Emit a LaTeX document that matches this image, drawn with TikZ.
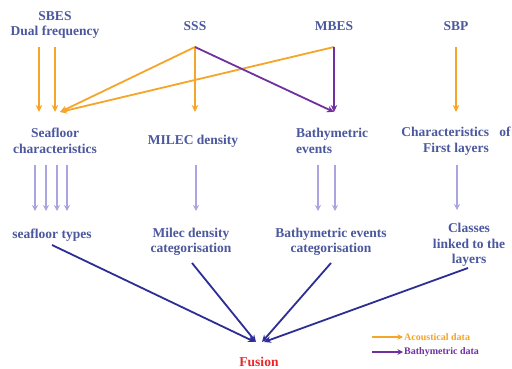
\documentclass[tikz,border=0pt]{standalone}
\usepackage{fontspec}
\setmainfont{Liberation Serif}
\usetikzlibrary{arrows.meta}
\definecolor{txt}{RGB}{75,88,158}
\definecolor{acou}{RGB}{245,165,40}
\definecolor{bath}{RGB}{112,48,160}
\definecolor{lite}{RGB}{170,165,225}
\definecolor{navy}{RGB}{45,45,150}
\definecolor{fus}{RGB}{232,40,40}
\tikzset{
  lbl/.style={text=txt, font=\bfseries\fontsize{13.5}{15.5}\selectfont, inner sep=0pt, align=center},
  acarrow/.style={draw=acou, line width=1.8pt, -{Stealth[length=7pt,width=6.5pt]}},
  batharrow/.style={draw=bath, line width=1.8pt, -{Stealth[length=7pt,width=6.5pt]}},
  litearrow/.style={draw=lite, line width=1.4pt, -{Stealth[length=6pt,width=6pt]}},
  navyarrow/.style={draw=navy, line width=1.8pt, -{Stealth[length=7pt,width=6.5pt]}},
  legtxt/.style={font=\bfseries\fontsize{10}{12}\selectfont, inner sep=0pt, anchor=west}
}
\begin{document}
\begin{tikzpicture}[x=1pt,y=-1pt]
\useasboundingbox[fill=white] (0,0) rectangle (512,369);
% top row
\node[lbl] (sbes) at (55,25) {SBES\\Dual frequency};
\node[lbl] (sss) at (195,26) {SSS};
\node[lbl] (mbes) at (334,26) {MBES};
\node[lbl] (sbp) at (456,26) {SBP};
% second row
\node[lbl] (sfc) at (55,141) {Seafloor\\characteristics};
\node[lbl] (milec) at (193,141) {MILEC density};
\node[lbl, align=left, anchor=west] (bev) at (296,141) {Bathymetric\\events};
\node[lbl] (chr) at (456,141) {Characteristics\ \ \ of\\First layers};
% third row
\node[lbl] (sft) at (52,235) {seafloor types};
\node[lbl] (mdc) at (191,242) {Milec density\\categorisation};
\node[lbl] (bec) at (331,242) {Bathymetric events\\categorisation};
\node[lbl] (cls) at (469,245) {Classes\\linked to the\\layers};
% fusion
\node[text=fus, font=\bfseries\fontsize{13.5}{15.5}\selectfont, inner sep=0pt] (fusion) at (259,362) {Fusion};
% coordinates for arrow ends
\coordinate (sb1) at (39,47);
\coordinate (sb2) at (55,47);
\coordinate (sb1e) at (39,112);
\coordinate (sb2e) at (55,112);
\coordinate (sfin) at (60,112);
\coordinate (ssso) at (195,47);
\coordinate (ssse) at (195,112);
\coordinate (mbo) at (334,47);
\coordinate (mbe) at (334,112);
\coordinate (sbpo) at (456,47);
\coordinate (sbpe) at (456,112);
% top arrows
\draw[acarrow] (sb1) -- (sb1e);
\draw[acarrow] (sb2) -- (sb2e);
\draw[acarrow] (ssso) -- (sfin);
\draw[acarrow] (mbo) -- (sfin);
\draw[acarrow] (ssso) -- (ssse);
\draw[batharrow] (ssso) -- (mbe);
\draw[batharrow] (mbo) -- (mbe);
\draw[acarrow] (sbpo) -- (sbpe);
% light arrows
\foreach \xx/\nn in {35/a,46/b,57/c,67/d}{
  \coordinate (sfs\nn) at (\xx,165);
  \coordinate (sfe\nn) at (\xx,211);
  \draw[litearrow] (sfs\nn) -- (sfe\nn);
}
\coordinate (mls) at (196,165); \coordinate (mle) at (196,211);
\draw[litearrow] (mls) -- (mle);
\coordinate (bvs1) at (318,165); \coordinate (bve1) at (318,211);
\coordinate (bvs2) at (335,165); \coordinate (bve2) at (335,211);
\draw[litearrow] (bvs1) -- (bve1);
\draw[litearrow] (bvs2) -- (bve2);
\coordinate (chs) at (457,165); \coordinate (che) at (457,210);
\draw[litearrow] (chs) -- (che);
% navy arrows
\coordinate (f1) at (52,245);
\coordinate (f2) at (192,263);
\coordinate (f3) at (331,263);
\coordinate (f4) at (468,268);
\coordinate (t1) at (255,342);
\coordinate (t2) at (256,342);
\coordinate (t3) at (262,342);
\coordinate (t4) at (264,342);
\draw[navyarrow] (f1) -- (t1);
\draw[navyarrow] (f2) -- (t2);
\draw[navyarrow] (f3) -- (t3);
\draw[navyarrow] (f4) -- (t4);
% legend
\coordinate (la1) at (372,337); \coordinate (la2) at (403,337);
\coordinate (lb1) at (372,352); \coordinate (lb2) at (403,352);
\draw[draw=acou, line width=1.5pt, -{Stealth[length=5.5pt,width=5.5pt]}] (la1) -- (la2);
\draw[draw=bath, line width=1.5pt, -{Stealth[length=5.5pt,width=5.5pt]}] (lb1) -- (lb2);
\node[legtxt, text=acou] (lega) at (404,337) {Acoustical data};
\node[legtxt, text=bath] (legb) at (404,352) {Bathymetric data};
\end{tikzpicture}
\end{document}
